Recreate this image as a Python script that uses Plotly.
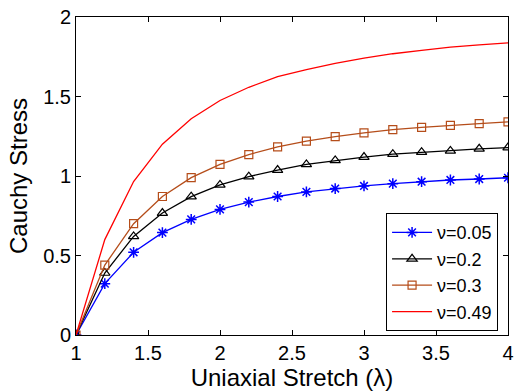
import plotly.graph_objects as go

stretch = [1.0, 1.2, 1.4, 1.6, 1.8, 2.0, 2.2, 2.4, 2.6, 2.8, 3.0, 3.2, 3.4, 3.6, 3.8, 4.0]
nu_005 = [0.0, 0.323, 0.52, 0.644, 0.727, 0.79, 0.836, 0.871, 0.90, 0.921, 0.9375, 0.952, 0.964, 0.975, 0.981, 0.989]
nu_02 = [0.0, 0.39, 0.62, 0.767, 0.87, 0.944, 0.996, 1.0375, 1.073, 1.098, 1.119, 1.1375, 1.15, 1.158, 1.171, 1.179]
nu_03 = [0.0, 0.44, 0.70, 0.871, 0.99, 1.073, 1.135, 1.183, 1.219, 1.248, 1.271, 1.292, 1.306, 1.319, 1.329, 1.34]
nu_049 = [0.0, 0.60, 0.965, 1.20, 1.36, 1.475, 1.558, 1.625, 1.669, 1.708, 1.742, 1.769, 1.79, 1.81, 1.825, 1.8375]
labels = ["ν=0.05", "ν=0.2", "ν=0.3", "ν=0.49"]

FONT = "Liberation Sans, Arial, Helvetica, sans-serif"

fig = go.Figure()
fig.add_trace(go.Scatter(x=stretch, y=nu_005, name=labels[0], mode="lines+markers",
                         line=dict(color="#0000FF", width=1.3),
                         marker=dict(symbol="asterisk-open", size=9, line=dict(color="#0000FF", width=1.5))))
fig.add_trace(go.Scatter(x=stretch, y=nu_02, name=labels[1], mode="lines+markers",
                         line=dict(color="#000000", width=1.3),
                         marker=dict(symbol="triangle-up-open", size=9, color="#000000", line=dict(width=1.2))))
fig.add_trace(go.Scatter(x=stretch, y=nu_03, name=labels[2], mode="lines+markers",
                         line=dict(color="#B54D1A", width=1.3),
                         marker=dict(symbol="square-open", size=8, color="#B54D1A", line=dict(width=1.2))))
fig.add_trace(go.Scatter(x=stretch, y=nu_049, name=labels[3], mode="lines",
                         line=dict(color="#FF0000", width=1.3)))

fig.update_layout(
    width=520, height=392,
    margin=dict(l=76, r=6, t=16, b=57),
    paper_bgcolor="white", plot_bgcolor="white",
    font=dict(family=FONT, size=20, color="black"),
    legend=dict(x=0.977, y=0.012, xanchor="right", yanchor="bottom",
                bordercolor="black", borderwidth=1, bgcolor="white",
                font=dict(size=18), itemwidth=40, tracegroupgap=0),
    xaxis=dict(range=[1, 4], tickvals=[1, 1.5, 2, 2.5, 3, 3.5, 4],
               ticktext=["1", "1.5", "2", "2.5", "3", "3.5", "4"],
               ticks="inside", ticklen=5, tickcolor="black", showline=True, linecolor="black",
               linewidth=1, mirror="ticks", showgrid=False, zeroline=False,
               title=dict(text="Uniaxial Stretch (λ)", standoff=0)),
    yaxis=dict(range=[0, 2], tickvals=[0, 0.5, 1, 1.5, 2],
               ticktext=["0", "0.5", "1", "1.5", "2"],
               ticks="inside", ticklen=5, tickcolor="black", showline=True, linecolor="black",
               linewidth=1, mirror="ticks", showgrid=False, zeroline=False,
               title=dict(text="Cauchy Stress", standoff=8)),
)

fig.write_html("out.html")
